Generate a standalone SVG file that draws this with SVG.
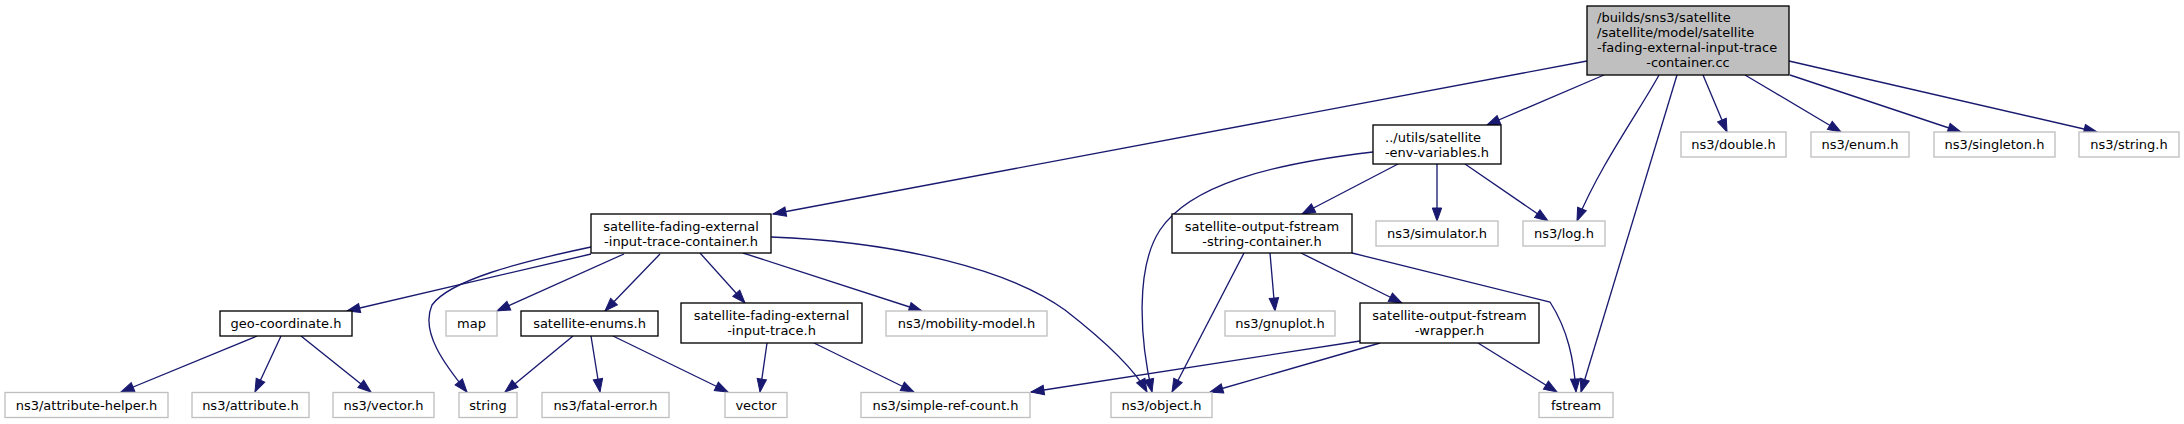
<svg xmlns="http://www.w3.org/2000/svg" width="2184" height="424" viewBox="0 0 2184 424">
<style>
.n rect{stroke-width:1.33}
.b rect{fill:#fff;stroke:#000}
.g rect{fill:#fff;stroke:#bfbfbf}
.r rect{fill:#bfbfbf;stroke:#000}
text{font-family:"DejaVu Sans","Liberation Sans",sans-serif;font-size:13px;fill:#000;text-anchor:middle}
text.l{text-anchor:start}
#edges path{fill:none;stroke:#191970;stroke-width:1.33;marker-end:url(#a)}
</style>
<defs>
<marker id="a" markerUnits="userSpaceOnUse" markerWidth="16" markerHeight="12" refX="13" refY="5" orient="auto" viewBox="-1 -1 16 12" overflow="visible">
<path d="M0,0.3 L13,5 L0,9.7 z" fill="#191970" stroke="#191970" stroke-width="1"/>
</marker>
</defs>
<rect width="2184" height="424" fill="#fff"/>
<g id="edges">
<path d="M1587,61 L773,214"/>
<path d="M1604,75 L1487,125"/>
<path d="M1659,75 C1640,110 1600,165 1577,221"/>
<path d="M1677,75 L1581,392"/>
<path d="M1703,75 L1727,132"/>
<path d="M1745,75 L1841,132"/>
<path d="M1790,75 L1961,132"/>
<path d="M1789,61 L2097,132"/>
<path d="M1398,164 L1302,214"/>
<path d="M1437,164 L1437,221"/>
<path d="M1465,164 L1548,221"/>
<path d="M1373,152 C1270,164 1190,185 1160,230 C1135,268 1140,340 1152,392"/>
<path d="M1244,253 L1172,392"/>
<path d="M1270,253 L1275,311"/>
<path d="M1301,253 L1402,303"/>
<path d="M1352,253 L1550,302 C1568,330 1574,360 1576,392"/>
<path d="M1360,341 L1031,392"/>
<path d="M1380,343 L1210,392"/>
<path d="M1478,343 L1557,392"/>
<path d="M591,254 L347,311"/>
<path d="M591,247 C520,262 450,280 432,305 C420,332 445,365 467,392"/>
<path d="M624,254 L497,311"/>
<path d="M660,254 L605,311"/>
<path d="M700,253 L745,303"/>
<path d="M743,253 L922,311"/>
<path d="M771,237 C900,242 1010,270 1065,310 C1110,345 1135,370 1147,392"/>
<path d="M257,336 L121,392"/>
<path d="M281,336 L255,392"/>
<path d="M301,336 L371,392"/>
<path d="M573,336 L505,392"/>
<path d="M591,336 L600,392"/>
<path d="M613,336 L728,392"/>
<path d="M767,343 L760,392"/>
<path d="M814,343 L914,392"/>
</g>
<g id="root" class="n r"><rect x="1587" y="6" width="202" height="69"/>
<text class="l" x="1597" y="22">/builds/sns3/satellite</text>
<text class="l" x="1597" y="37">/satellite/model/satellite</text>
<text class="l" x="1597" y="52">-fading-external-input-trace</text>
<text x="1688" y="67">-container.cc</text></g>
<g id="n_double" class="n g"><rect x="1681" y="132" width="105" height="25"/><text x="1733.5" y="149">ns3/double.h</text></g>
<g id="n_enum" class="n g"><rect x="1811" y="132" width="98" height="25"/><text x="1860" y="149">ns3/enum.h</text></g>
<g id="n_singleton" class="n g"><rect x="1934" y="132" width="121" height="25"/><text x="1994.5" y="149">ns3/singleton.h</text></g>
<g id="n_stringh" class="n g"><rect x="2079" y="132" width="100" height="25"/><text x="2129" y="149">ns3/string.h</text></g>
<g id="n_env" class="n b"><rect x="1373" y="125" width="128" height="39"/>
<text class="l" x="1385" y="142">../utils/satellite</text>
<text x="1437" y="157">-env-variables.h</text></g>
<g id="n_simulator" class="n g"><rect x="1376" y="221" width="122" height="25"/><text x="1437" y="238">ns3/simulator.h</text></g>
<g id="n_log" class="n g"><rect x="1523" y="221" width="82" height="25"/><text x="1564" y="238">ns3/log.h</text></g>
<g id="n_container" class="n b"><rect x="591" y="214" width="180" height="39"/>
<text x="681" y="231">satellite-fading-external</text>
<text x="681" y="246">-input-trace-container.h</text></g>
<g id="n_strcontainer" class="n b"><rect x="1172" y="214" width="180" height="39"/>
<text x="1262" y="231">satellite-output-fstream</text>
<text x="1262" y="246">-string-container.h</text></g>
<g id="n_geo" class="n b"><rect x="220" y="311" width="132" height="25"/><text x="286" y="328">geo-coordinate.h</text></g>
<g id="n_map" class="n g"><rect x="446" y="311" width="51" height="25"/><text x="471.5" y="328">map</text></g>
<g id="n_enums" class="n b"><rect x="521" y="311" width="137" height="25"/><text x="589.5" y="328">satellite-enums.h</text></g>
<g id="n_trace" class="n b"><rect x="681" y="303" width="181" height="40"/>
<text x="771.5" y="320">satellite-fading-external</text>
<text x="771.5" y="335">-input-trace.h</text></g>
<g id="n_mobility" class="n g"><rect x="886" y="311" width="161" height="25"/><text x="966.5" y="328">ns3/mobility-model.h</text></g>
<g id="n_gnuplot" class="n g"><rect x="1225" y="311" width="110" height="25"/><text x="1280" y="328">ns3/gnuplot.h</text></g>
<g id="n_wrapper" class="n b"><rect x="1360" y="303" width="179" height="40"/>
<text x="1449.5" y="320">satellite-output-fstream</text>
<text x="1449.5" y="335">-wrapper.h</text></g>
<g id="n_attrhelper" class="n g"><rect x="5" y="392.5" width="163" height="25"/><text x="86.5" y="409.5">ns3/attribute-helper.h</text></g>
<g id="n_attr" class="n g"><rect x="192" y="392.5" width="117" height="25"/><text x="250.5" y="409.5">ns3/attribute.h</text></g>
<g id="n_vectorh" class="n g"><rect x="333" y="392.5" width="101" height="25"/><text x="383.5" y="409.5">ns3/vector.h</text></g>
<g id="n_string" class="n g"><rect x="459" y="392.5" width="58" height="25"/><text x="488" y="409.5">string</text></g>
<g id="n_fatal" class="n g"><rect x="542" y="392.5" width="127" height="25"/><text x="605.5" y="409.5">ns3/fatal-error.h</text></g>
<g id="n_vector" class="n g"><rect x="725" y="392.5" width="62" height="25"/><text x="756" y="409.5">vector</text></g>
<g id="n_refcount" class="n g"><rect x="861" y="392.5" width="169" height="25"/><text x="945.5" y="409.5">ns3/simple-ref-count.h</text></g>
<g id="n_object" class="n g"><rect x="1111" y="392.5" width="101" height="25"/><text x="1161.5" y="409.5">ns3/object.h</text></g>
<g id="n_fstream" class="n g"><rect x="1539" y="392.5" width="74" height="25"/><text x="1576" y="409.5">fstream</text></g>
</svg>
